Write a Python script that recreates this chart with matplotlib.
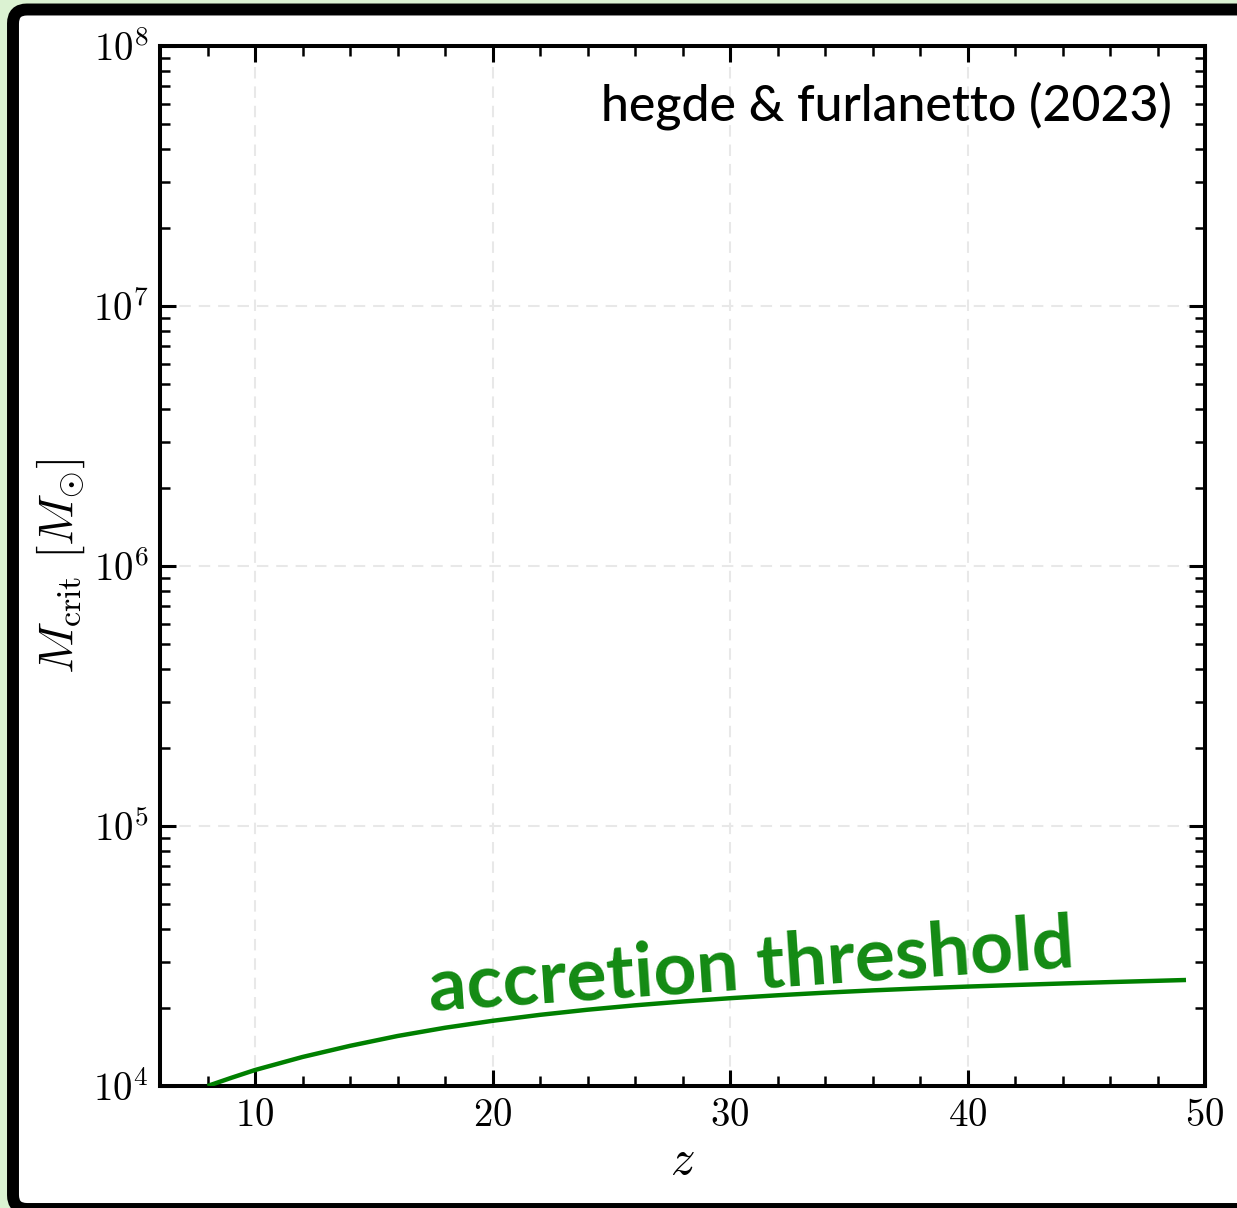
import math
import matplotlib
matplotlib.use("Agg")
import matplotlib.pyplot as plt
from matplotlib.patches import FancyBboxPatch
from matplotlib.transforms import IdentityTransform
from matplotlib.ticker import FixedLocator, LogLocator, FuncFormatter, MultipleLocator, NullFormatter

# Critical halo mass for gas accretion vs redshift
z_vals = [8, 9, 10, 12, 14, 16, 18, 20, 22, 24, 26, 28, 30, 32, 34, 36, 38, 40,
          42, 44, 46, 48, 49.2]
m_crit = [1.000e4, 1.075e4, 1.152e4, 1.293e4, 1.427e4, 1.557e4, 1.675e4, 1.781e4,
          1.878e4, 1.965e4, 2.043e4, 2.113e4, 2.176e4, 2.233e4, 2.285e4, 2.332e4,
          2.374e4, 2.412e4, 2.446e4, 2.479e4, 2.510e4, 2.539e4, 2.557e4]

x_major = [10, 20, 30, 40, 50]
y_exponents = [4, 5, 6, 7, 8]
x_range = (6, 50)
y_range = (1e4, 1e8)

curve_label = "accretion threshold"
credit = "hegde & furlanetto (2023)"

plt.rcParams["mathtext.fontset"] = "cm"
plt.rcParams["font.family"] = ["DejaVu Serif"]

W, H, DPI = 1237, 1208, 100
fig = plt.figure(figsize=(W / DPI, H / DPI), dpi=DPI, facecolor="#dbf2d2")

# Rounded black frame around the panel (right side runs off the canvas)
frame = FancyBboxPatch((13, -1), 1262 - 13, 1198.5 + 1,
                       boxstyle="round,pad=0,rounding_size=14",
                       transform=IdentityTransform(),
                       facecolor="white", edgecolor="black", linewidth=8.6,
                       zorder=-5)
fig.add_artist(frame)

ax = fig.add_axes([160 / W, 122 / H, 1045 / W, 1040 / H])
ax.set_facecolor("white")
ax.set_yscale("log")
ax.set_xlim(*x_range)
ax.set_ylim(*y_range)

ax.plot(z_vals, m_crit, color="green", lw=3.2, solid_capstyle="butt",
        solid_joinstyle="round", zorder=3)

# Ticks
ax.xaxis.set_major_locator(FixedLocator(x_major))
ax.xaxis.set_minor_locator(MultipleLocator(2))
ax.xaxis.set_major_formatter(FuncFormatter(lambda v, p: rf"${v:.0f}$"))
ax.yaxis.set_major_locator(FixedLocator([10.0 ** e for e in y_exponents]))
ax.yaxis.set_minor_locator(LogLocator(base=10, subs=range(2, 10), numticks=20))
ax.yaxis.set_minor_formatter(NullFormatter())
ax.yaxis.set_major_formatter(
    FuncFormatter(lambda v, p: rf"$10^{{{int(round(math.log10(v)))}}}$"))

ax.tick_params(which="both", direction="in", top=True, right=True,
               labelsize=28, colors="black")
ax.tick_params(which="major", length=11.5, width=2.2, pad=8)
ax.tick_params(which="minor", length=7, width=1.8)
for s in ax.spines.values():
    s.set_linewidth(2.9)

ax.grid(True, which="major", color="#e8e8e8", lw=1.5, linestyle=(0, (5.5, 3.8)),
        zorder=0)
ax.set_axisbelow(True)

ax.set_xlabel(r"$z$", fontsize=35, labelpad=2)
ax.set_ylabel(r"$M_{\mathrm{crit}}\ [M_{\odot}]$", fontsize=35, labelpad=4)

ax.text(0.9684, 0.9288, credit, transform=ax.transAxes, ha="right", va="baseline",
        fontsize=36, family="Lato", fontweight="medium", color="black")

ax.text(17.36, 1.96e4, curve_label, ha="left", va="baseline", rotation=3.9,
        rotation_mode="anchor", fontsize=54, family="Lato", fontweight="bold",
        color="#138a13", zorder=4)

fig.savefig("out.png", dpi=DPI, facecolor=fig.get_facecolor())
